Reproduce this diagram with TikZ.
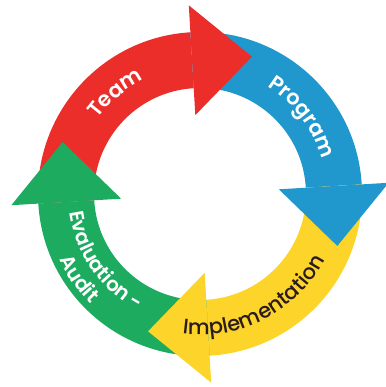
\documentclass[tikz,border=0pt]{standalone}
\usepackage{fontspec}
\setmainfont{Poppins}[UprightFont=* Medium, BoldFont=* SemiBold]
\usetikzlibrary{decorations.text}
\definecolor{cred}{RGB}{236,46,43}
\definecolor{cblue}{RGB}{32,151,205}
\definecolor{cyellow}{RGB}{252,212,42}
\definecolor{cgreen}{RGB}{28,171,95}
\definecolor{cdark}{RGB}{43,27,31}
\tikzset{
  arctext/.style={decorate, decoration={text along path, text align=center, text color=#1}},
}
\newcommand{\ringbody}[3]{% color, start, end (clockwise)
  \fill[#1] (#2:162pt) arc[start angle=#2, end angle=#3, radius=162pt] -- (#3:106pt) arc[start angle=#3, end angle=#2, radius=106pt] -- cycle;}
\newcommand{\ringhead}[4]{% color, base angle, tip direction, name
  \path (#2:134pt) ++(#3:60pt) coordinate (#4);
  \fill[#1] (#2:79pt) -- (#2:189pt) -- (#4) -- cycle;}
\begin{document}
\begin{tikzpicture}[x=1pt,y=1pt]
\useasboundingbox (0,0) rectangle (385,387);
\begin{scope}[shift={(200pt,193pt)}]
  \ringbody{cred}{183.4}{93.4}
  \ringbody{cblue}{93.4}{3.4}
  \ringbody{cyellow}{3.4}{-86.6}
  \ringbody{cgreen}{-86.6}{-176.6}
  \ringhead{cred}{93.4}{3.4}{redtip}
  \ringhead{cblue}{3.4}{-86.6}{bluetip}
  \ringhead{cyellow}{-86.6}{-176.6}{yellowtip}
  \ringhead{cgreen}{183.4}{93.4}{greentip}
  \path[arctext=white, decoration={text={|\bfseries\fontsize{21}{21}\selectfont|Team}}]
    (190:127pt) arc[start angle=190, end angle=70, radius=127pt];
  \path[arctext=white, decoration={text={|\bfseries\fontsize{21}{21}\selectfont|Program}}]
    (97:127pt) arc[start angle=97, end angle=-23, radius=127pt];
  \path[arctext=cdark, decoration={text={|\fontsize{21}{21}\selectfont|Implementation}}]
    (-152.5:141pt) arc[start angle=-152.5, end angle=27.5, radius=141pt];
  \path[arctext=white, decoration={text={|\bfseries\fontsize{20}{20}\selectfont|Evaluation -}}]
    (135:132pt) arc[start angle=135, end angle=295, radius=132pt];
  \path[arctext=white, decoration={text={|\bfseries\fontsize{20}{20}\selectfont|Audit}}]
    (155:155pt) arc[start angle=155, end angle=275, radius=155pt];
\end{scope}
\end{tikzpicture}
\end{document}
